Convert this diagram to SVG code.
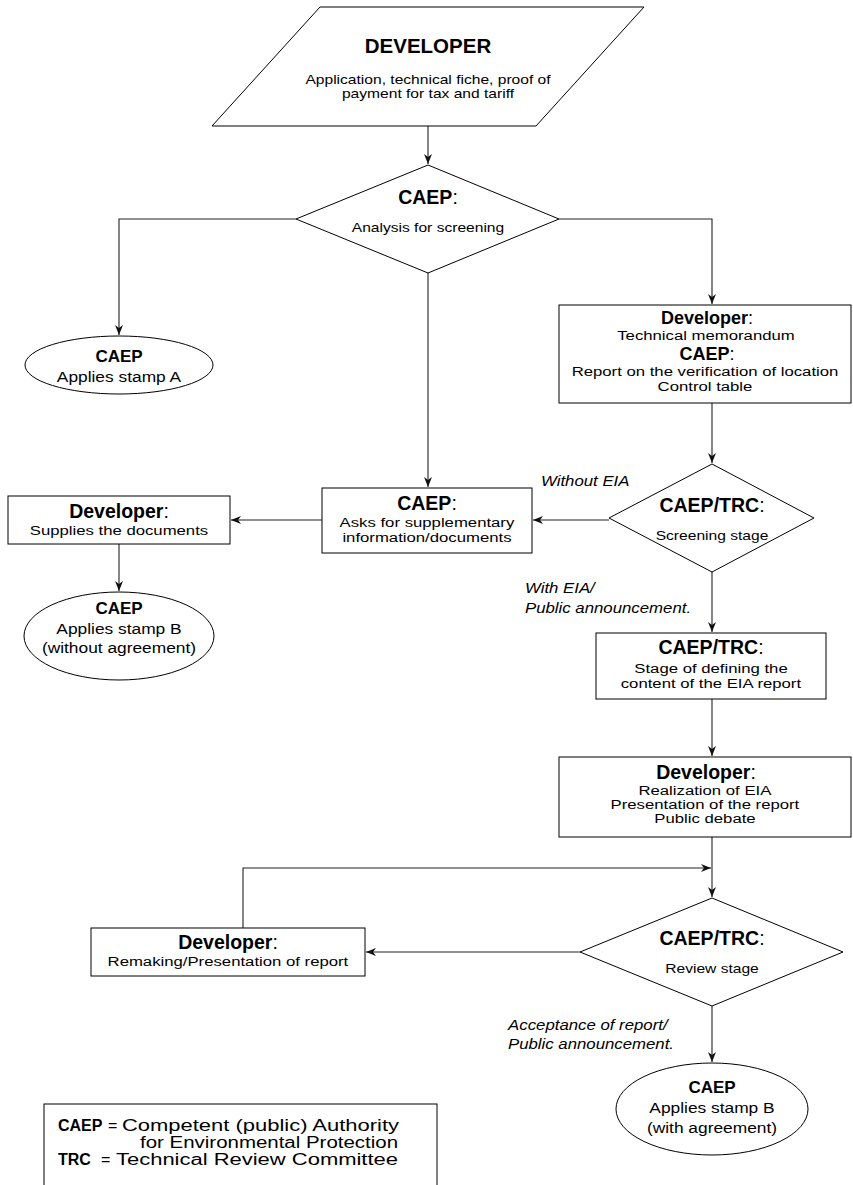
<svg xmlns="http://www.w3.org/2000/svg" width="853" height="1185" viewBox="0 0 853 1185">
<style>
text{font-family:"Liberation Sans",Arial,sans-serif;fill:#000}
.shape{fill:#fff;stroke:#000;stroke-width:1}
.con{fill:none;stroke:#222;stroke-width:1.1}
.hd{font-size:19.5px;font-weight:bold;text-anchor:middle}
.hs{font-size:18px;font-weight:bold;text-anchor:middle}
.eb{font-size:17px;font-weight:bold;text-anchor:middle}
.top{font-size:20.5px;font-weight:bold;text-anchor:middle}
.n{font-weight:normal}
.bd,.sm,.et{text-anchor:middle;transform-box:fill-box;transform-origin:50% 50%}
.bd{font-size:13.5px;transform:scaleX(1.24)}
.sm{font-size:13px;transform:scaleX(1.2)}
.et{font-size:15.5px;transform:scaleX(1.12)}
.it{font-size:15px;font-style:italic;transform-box:fill-box;transform-origin:0% 50%;transform:scaleX(1.12)}
.lb{font-size:16px;font-weight:bold}
.lt{font-size:16px}
</style>
<defs>
<marker id="ah" markerWidth="11" markerHeight="9" refX="10" refY="4" orient="auto" markerUnits="userSpaceOnUse">
<path d="M0,0 L10,4 L0,8 L3,4 Z" fill="#111"/>
</marker>
</defs>

<g id="connectors">
<line class="con" x1="428" y1="126" x2="428" y2="164" marker-end="url(#ah)"/>
<polyline class="con" points="296,219 119,219 119,335" marker-end="url(#ah)"/>
<polyline class="con" points="559,219 712,219 712,304" marker-end="url(#ah)"/>
<line class="con" x1="428" y1="273" x2="428" y2="487" marker-end="url(#ah)"/>
<line class="con" x1="712" y1="403" x2="712" y2="463" marker-end="url(#ah)"/>
<line class="con" x1="609" y1="520" x2="533" y2="520" marker-end="url(#ah)"/>
<line class="con" x1="322" y1="520" x2="231" y2="520" marker-end="url(#ah)"/>
<line class="con" x1="119" y1="544" x2="119" y2="591" marker-end="url(#ah)"/>
<line class="con" x1="712" y1="572" x2="712" y2="632" marker-end="url(#ah)"/>
<line class="con" x1="712" y1="699" x2="712" y2="756" marker-end="url(#ah)"/>
<line class="con" x1="712" y1="837" x2="712" y2="897" marker-end="url(#ah)"/>
<polyline class="con" points="243,928 243,868 711,868" marker-end="url(#ah)"/>
<line class="con" x1="580" y1="952" x2="366" y2="952" marker-end="url(#ah)"/>
<line class="con" x1="712" y1="1006" x2="712" y2="1062" marker-end="url(#ah)"/>
<text class="it" x="541" y="486">Without EIA</text>
<text class="it" x="525" y="593">With EIA/</text>
<text class="it" x="525" y="613">Public announcement.</text>
<text class="it" x="508" y="1030">Acceptance of report/</text>
<text class="it" x="508" y="1049">Public announcement.</text>
</g>

<g id="developer-start">
<polygon class="shape" points="320,7 644,7 536,126 212,126"/>
<text class="top" x="428" y="53">DEVELOPER</text>
<text class="sm" x="428" y="84">Application, technical fiche, proof of</text>
<text class="sm" x="428" y="98">payment for tax and tariff</text>
</g>

<g id="caep-screening-analysis">
<polygon class="shape" points="428,165 559,219 428,273 296,219"/>
<text class="hd" x="428" y="204">CAEP<tspan class="n">:</tspan></text>
<text class="sm" x="428" y="232">Analysis for screening</text>
</g>

<g id="stamp-a">
<ellipse class="shape" cx="119" cy="365" rx="94" ry="29"/>
<text class="eb" x="119" y="362">CAEP</text>
<text class="et" x="119" y="382">Applies stamp A</text>
</g>

<g id="memorandum">
<rect class="shape" x="559" y="305" width="292" height="98"/>
<text class="hs" x="707" y="324">Developer<tspan class="n">:</tspan></text>
<text class="bd" x="706" y="340">Technical memorandum</text>
<text class="hs" x="707" y="360">CAEP<tspan class="n">:</tspan></text>
<text class="bd" x="705" y="376">Report on the verification of location</text>
<text class="bd" x="705" y="391">Control table</text>
</g>

<g id="supplementary">
<rect class="shape" x="322" y="488" width="210" height="65"/>
<text class="hd" x="427" y="510">CAEP<tspan class="n">:</tspan></text>
<text class="bd" x="427" y="527">Asks for supplementary</text>
<text class="bd" x="427" y="542">information/documents</text>
</g>

<g id="supplies-documents">
<rect class="shape" x="8" y="496" width="222" height="48"/>
<text class="hd" x="119" y="518">Developer<tspan class="n">:</tspan></text>
<text class="bd" x="119" y="535">Supplies the documents</text>
</g>

<g id="stamp-b-without">
<ellipse class="shape" cx="119" cy="636" rx="95" ry="44"/>
<text class="eb" x="119" y="614">CAEP</text>
<text class="et" x="119" y="634">Applies stamp B</text>
<text class="et" x="119" y="653">(without agreement)</text>
</g>

<g id="screening-stage">
<polygon class="shape" points="712,464 814,518 712,572 609,518"/>
<text class="hd" x="712" y="512">CAEP/TRC<tspan class="n">:</tspan></text>
<text class="sm" x="712" y="540">Screening stage</text>
</g>

<g id="defining-content">
<rect class="shape" x="596" y="633" width="230" height="66"/>
<text class="hd" x="711" y="654">CAEP/TRC<tspan class="n">:</tspan></text>
<text class="bd" x="711" y="673">Stage of defining the</text>
<text class="bd" x="711" y="688">content of the EIA report</text>
</g>

<g id="realization">
<rect class="shape" x="559" y="757" width="292" height="80"/>
<text class="hd" x="706" y="779">Developer<tspan class="n">:</tspan></text>
<text class="bd" x="705" y="795">Realization of EIA</text>
<text class="bd" x="705" y="809">Presentation of the report</text>
<text class="bd" x="705" y="823">Public debate</text>
</g>

<g id="review-stage">
<polygon class="shape" points="712,898 843,952 712,1006 580,952"/>
<text class="hd" x="712" y="945">CAEP/TRC<tspan class="n">:</tspan></text>
<text class="sm" x="712" y="973">Review stage</text>
</g>

<g id="remaking">
<rect class="shape" x="91" y="928" width="274" height="48"/>
<text class="hd" x="228" y="949">Developer<tspan class="n">:</tspan></text>
<text class="bd" x="228" y="966">Remaking/Presentation of report</text>
</g>

<g id="stamp-b-with">
<ellipse class="shape" cx="712" cy="1109" rx="96" ry="46"/>
<text class="eb" x="712" y="1093">CAEP</text>
<text class="et" x="712" y="1113">Applies stamp B</text>
<text class="et" x="712" y="1133">(with agreement)</text>
</g>

<g id="legend">
<rect class="shape" x="44" y="1104" width="393" height="100"/>
<text class="lb" x="58" y="1131">CAEP</text>
<text class="lt" x="108" y="1131">=</text>
<text class="lt" x="122" y="1131" textLength="277" lengthAdjust="spacingAndGlyphs">Competent (public) Authority</text>
<text class="lt" x="140" y="1148" textLength="258" lengthAdjust="spacingAndGlyphs">for Environmental Protection</text>
<text class="lb" x="58" y="1165">TRC</text>
<text class="lt" x="101" y="1165">=</text>
<text class="lt" x="116" y="1165" textLength="282" lengthAdjust="spacingAndGlyphs">Technical Review Committee</text>
</g>
</svg>
